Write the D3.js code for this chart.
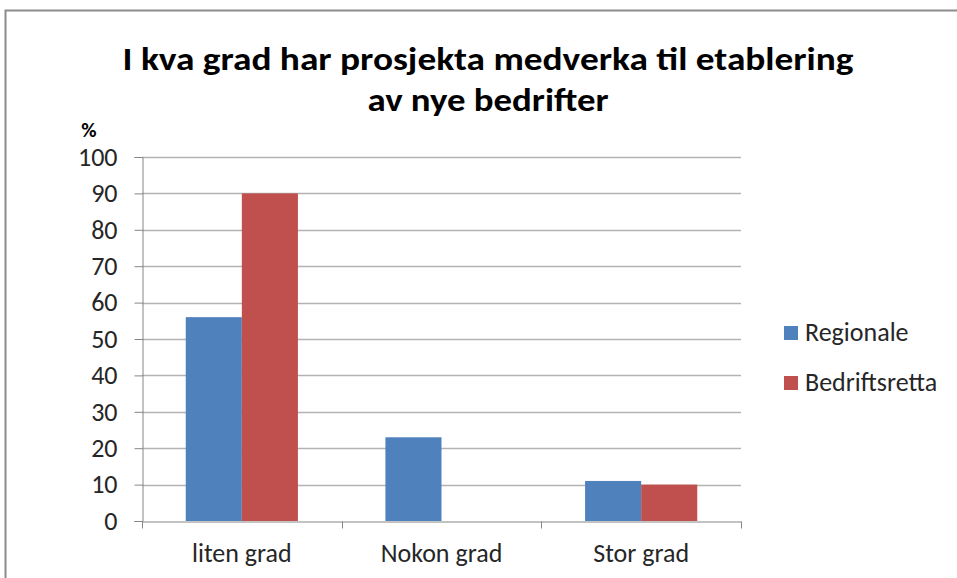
<!DOCTYPE html>
<html>
<head>
<meta charset="utf-8">
<script src="https://cdn.jsdelivr.net/npm/d3@7"></script>
<style>
  body { margin: 0; background: #fff; }
  svg { display: block; }
</style>
</head>
<body>
<figure id="chart" style="margin:0"></figure>
<script>
// data
const categories = ["liten grad", "Nokon grad", "Stor grad"];
const seriesNames = ["Regionale", "Bedriftsretta"];
const regionale = [56, 23, 11];
const bedriftsretta = [90, 0, 10];
const yTicks = [0, 10, 20, 30, 40, 50, 60, 70, 80, 90, 100];
const titleLines = ["I kva grad har prosjekta medverka til etablering", "av nye bedrifter"];

const colors = ["#4F81BD", "#C0504D"];
const width = 957, height = 578;
const plot = { left: 142, right: 741, top: 157, bottom: 521 };
const font = "Carlito, Calibri, 'Open Sans', 'Noto Sans', sans-serif";
const labelSize = 26;

const svg = d3.select("#chart")
  .append("svg")
  .attr("width", width)
  .attr("height", height);

// outer frame
svg.append("path")
  .attr("d", `M5.5,${height} V10.5 H${width}`)
  .attr("fill", "none")
  .attr("stroke", "#8c8c8c")
  .attr("stroke-width", 2);

// title
svg.append("g").selectAll("text")
  .data(titleLines)
  .enter()
  .append("text")
  .attr("x", 488)
  .attr("y", (d, i) => 70 + i * 41)
  .attr("text-anchor", "middle")
  .attr("font-family", font)
  .attr("font-weight", "bold")
  .attr("font-size", 32)
  .attr("textLength", (d, i) => i === 0 ? 731 : 241)
  .attr("lengthAdjust", "spacingAndGlyphs")
  .text(d => d);

// scales
const x0 = d3.scaleBand()
  .domain(categories)
  .range([plot.left, plot.right])
  .paddingInner(0)
  .paddingOuter(0);
const x1 = d3.scaleBand()
  .domain(seriesNames)
  .range([0, x0.bandwidth()])
  .paddingInner(0)
  .paddingOuter(0.78);
const y = d3.scaleLinear()
  .domain([0, 100])
  .range([plot.bottom, plot.top]);

// gridlines
svg.append("g")
  .selectAll("line")
  .data(yTicks.filter(t => t > 0))
  .enter()
  .append("line")
  .attr("x1", plot.left)
  .attr("x2", plot.right)
  .attr("y1", d => Math.round(y(d)) + 0.5)
  .attr("y2", d => Math.round(y(d)) + 0.5)
  .attr("stroke", "#b3b3b3")
  .attr("stroke-width", 1.3);

// y axis
const yAxis = svg.append("g")
  .attr("transform", `translate(${plot.left + 0.5},0)`)
  .call(d3.axisLeft(y).tickValues(yTicks).tickSize(8).tickPadding(17).tickFormat(d3.format("d")));
yAxis.select(".domain").attr("stroke", "#868686");
yAxis.selectAll(".tick line").attr("stroke", "#868686");
yAxis.selectAll(".tick text")
  .attr("font-family", font)
  .attr("font-size", labelSize)
  .attr("fill", "#262626");

svg.append("text")
  .attr("x", 89)
  .attr("y", 137)
  .attr("text-anchor", "middle")
  .attr("font-family", font)
  .attr("font-weight", "bold")
  .attr("font-size", 21)
  .text("%");

// bars
const groups = svg.append("g")
  .selectAll("g")
  .data(categories)
  .enter()
  .append("g")
  .attr("transform", d => `translate(${x0(d)},0)`);

groups.selectAll("rect")
  .data((d, i) => [regionale[i], bedriftsretta[i]].map((v, s) => ({ v, s })))
  .enter()
  .filter(d => d.v > 0)
  .append("rect")
  .attr("x", d => x1(seriesNames[d.s]))
  .attr("y", d => y(d.v))
  .attr("width", x1.bandwidth())
  .attr("height", d => y(0) - y(d.v))
  .attr("fill", d => colors[d.s]);

// x axis
const xAxis = svg.append("g")
  .attr("transform", `translate(0,${plot.bottom + 0.5})`)
  .call(d3.axisBottom(x0).tickSize(0).tickPadding(22));
xAxis.select(".domain").attr("stroke", "#868686");
xAxis.selectAll(".tick text")
  .attr("font-family", font)
  .attr("font-size", labelSize)
  .attr("fill", "#262626");
xAxis.append("g")
  .selectAll("line")
  .data(categories.map(c => x0(c)).concat([plot.right]))
  .enter()
  .append("line")
  .attr("x1", d => Math.round(d) + 0.5)
  .attr("x2", d => Math.round(d) + 0.5)
  .attr("y1", 0)
  .attr("y2", 7)
  .attr("stroke", "#868686");

// legend
const legend = svg.append("g")
  .selectAll("g")
  .data(seriesNames)
  .enter()
  .append("g")
  .attr("transform", (d, i) => `translate(784,${326 + i * 50})`);
legend.append("rect")
  .attr("width", 14)
  .attr("height", 14)
  .attr("fill", (d, i) => colors[i]);
legend.append("text")
  .attr("x", 21)
  .attr("y", 15)
  .attr("font-family", font)
  .attr("font-size", labelSize)
  .attr("fill", "#262626")
  .text(d => d);
</script>
</body>
</html>
